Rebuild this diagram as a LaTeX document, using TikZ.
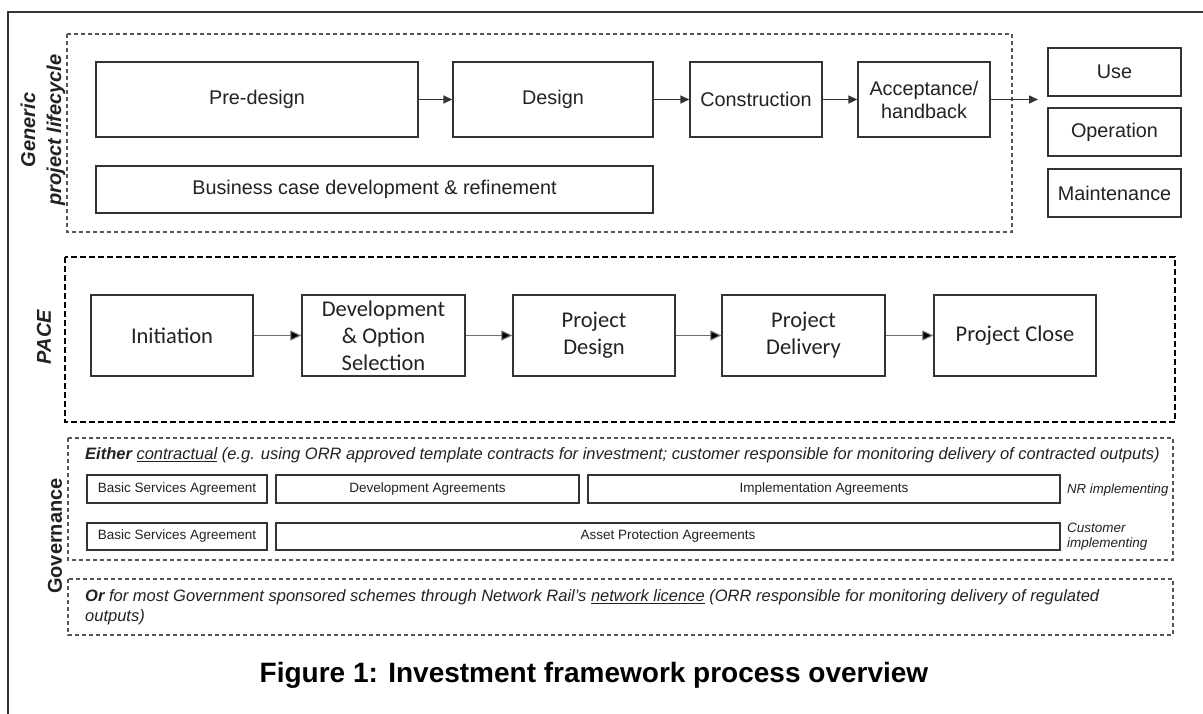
\documentclass[tikz,border=0pt]{standalone}
\usepackage{fontspec}
\setmainfont{Liberation Sans}
\newfontfamily\calibri{Carlito}
\usetikzlibrary{arrows.meta}
\definecolor{ink}{HTML}{222222}
\definecolor{edge}{HTML}{333333}
\definecolor{dashgray}{HTML}{555555}
\begin{document}
\begin{tikzpicture}[x=1pt,y=-1pt,
  box/.style={draw=edge, line width=1.4pt, inner sep=0pt, text=ink, align=center,
    font=\fontsize{19.8}{23}\selectfont},
  pacebox/.style={draw=edge, line width=1.4pt, inner sep=0pt, text=ink, align=center,
    minimum height=81, font=\calibri\fontsize{22.5}{27}\selectfont},
  smallbox/.style={draw=edge, line width=1.2pt, inner sep=0pt, text=ink,
    font=\fontsize{13.5}{16}\selectfont},
  genframe/.style={draw=dashgray, line width=1.2pt, dash pattern=on 4pt off 3pt},
  paceframe/.style={draw=black, line width=1.3pt, dash pattern=on 6pt off 3pt},
  govframe/.style={draw=dashgray, line width=1.2pt, dash pattern=on 4pt off 3pt},
  flow/.style={draw=edge, line width=1.5pt, -{Triangle[length=9pt,width=8pt]}},
  paceflow/.style={draw=edge!70, line width=1.1pt, -{Triangle[length=11pt,width=10pt,fill=black]}},
  sidelabel/.style={rotate=90, text=ink, align=center, font=\bfseries\itshape\fontsize{20}{26}\selectfont},
  note/.style={text=ink, anchor=west, inner sep=0pt, font=\itshape\fontsize{16.5}{20}\selectfont}
]
\useasboundingbox (0,0) rectangle (1203,713);
\fill[white] (0,0) rectangle (1203,713);

% page frame (left and top edges)
\draw[edge, line width=1.5pt] (8,730) -- (8,12) -- (1215,12);

% ---- generic project lifecycle ----
\draw[genframe] (67,34) rectangle (1012,232);
\node[sidelabel] (genlbl) at (43,130) {Generic\\project lifecycle};

\node[box, minimum width=322, minimum height=75] (pre) at (257,99.5) {Pre-design};
\node[box, minimum width=200, minimum height=75] (des) at (553,99.5) {Design};
\node[box, minimum width=132, minimum height=75] (con) at (756,99.5) {Construction};
\node[box, minimum width=132, minimum height=75] (acc) at (924,99.5) {Acceptance/\\handback};
\node[box, minimum width=557, minimum height=47] (bus) at (374.5,189.5) {Business case development \& refinement};

\node[box, minimum width=133, minimum height=48] (use) at (1114.5,72) {Use};
\node[box, minimum width=133, minimum height=48] (ope) at (1114.5,132) {Operation};
\node[box, minimum width=133, minimum height=48] (mai) at (1114.5,193) {Maintenance};
\coordinate (handover) at (1038,99.5);

\draw[flow] (pre) -- (des);
\draw[flow] (des) -- (con);
\draw[flow] (con) -- (acc);
\draw[flow] (acc.east) -- (handover);

% ---- PACE ----
\draw[paceframe] (65,257) rectangle (1175,422);
\node[sidelabel] (pacelbl) at (44,337) {PACE};

\node[pacebox, minimum width=162] (ini) at (172,335.5) {Initiation};
\node[pacebox, minimum width=163] (dev) at (383.5,335.5) {Development\\\& Option\\Selection};
\node[pacebox, minimum width=162] (pde) at (594,335.5) {Project\\Design};
\node[pacebox, minimum width=163] (pdl) at (803.5,335.5) {Project\\Delivery};
\node[pacebox, minimum width=162] (pcl) at (1015,335.5) {Project Close};

\draw[paceflow] (ini) -- (dev);
\draw[paceflow] (dev) -- (pde);
\draw[paceflow] (pde) -- (pdl);
\draw[paceflow] (pdl) -- (pcl);

% ---- governance ----
\node[rotate=90, text=ink, font=\bfseries\fontsize{20}{24}\selectfont] (govlbl) at (55,536) {Governance};

\draw[govframe] (68,438) rectangle (1173,560);
\node[note] (either) at (85,455) {\textbf{Either} \underline{contractual} (e.g. using ORR approved template contracts for investment; customer responsible for monitoring delivery of contracted outputs)};

\node[smallbox, minimum width=180, minimum height=28] (bsa1) at (177,489) {Basic Services Agreement};
\node[smallbox, minimum width=303, minimum height=28] (dva) at (427.5,489) {Development Agreements};
\node[smallbox, minimum width=472, minimum height=28] (ima) at (824,489) {Implementation Agreements};
\node[note, font=\itshape\fontsize{13.2}{15}\selectfont] (nrimp) at (1067,490) {NR implementing};

\node[smallbox, minimum width=180, minimum height=27] (bsa2) at (177,536.5) {Basic Services Agreement};
\node[smallbox, minimum width=784, minimum height=27] (apa) at (668,536.5) {Asset Protection Agreements};
\node[note, align=left, font=\itshape\fontsize{13.5}{15}\selectfont] (custimp) at (1067,536.5) {Customer\\implementing};

\draw[govframe] (68,579) rectangle (1173,635);
\node[note, align=left] (orlic) at (85,607) {\textbf{Or} for most Government sponsored schemes through Network Rail’s \underline{network licence} (ORR responsible for monitoring delivery of regulated\\outputs)};

% ---- caption ----
\node[text=black, font=\bfseries\fontsize{28}{32}\selectfont] (caption) at (594,675) {Figure 1: Investment framework process overview};
\end{tikzpicture}
\end{document}
